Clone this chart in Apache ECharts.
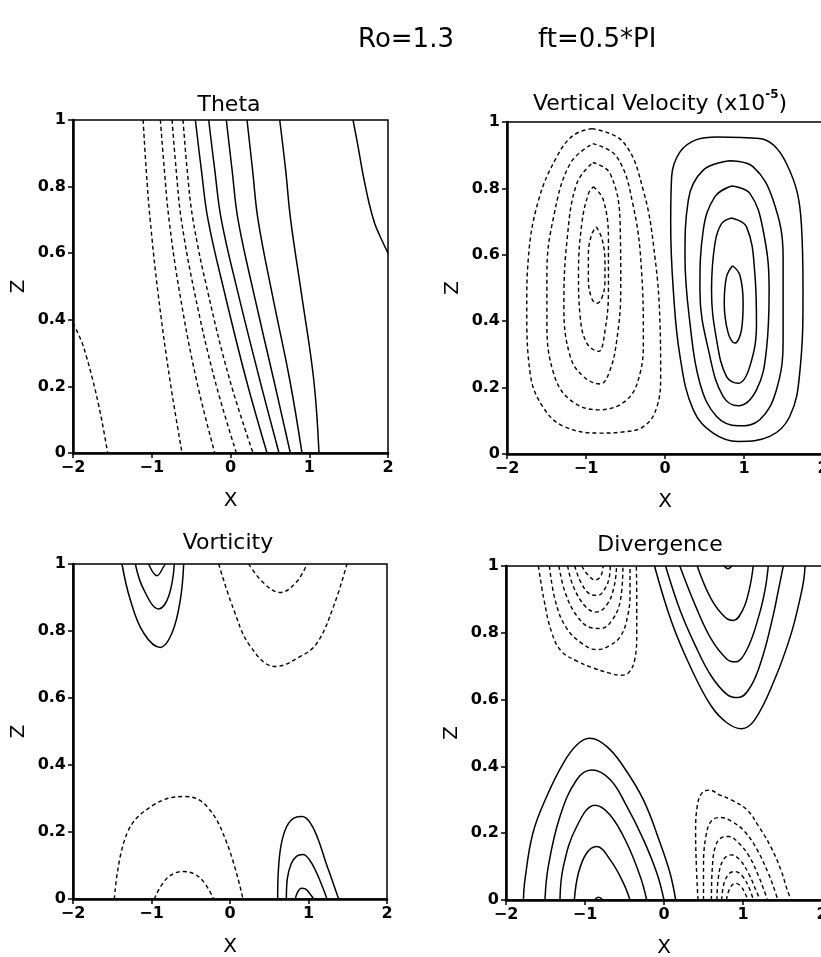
<!DOCTYPE html>
<html>
<head>
<meta charset="utf-8">
<script src="https://cdn.jsdelivr.net/npm/echarts@6/dist/echarts.min.js"></script>
<style>
html,body{margin:0;padding:0;background:#fff;}
#c{width:821px;height:957px;}
</style>
</head>
<body>
<div id="c"></div>
<script>
// ---------- tick labels ----------
const xTicks = [-2, -1, 0, 1, 2];
const zTicks = [0, 0.2, 0.4, 0.6, 0.8, 1];

// ---------- Theta contours (x, z) ----------
const thetaDashed = [
  [[-2,0.39],[-1.9,0.34],[-1.83,0.29],[-1.75,0.22],[-1.68,0.15],[-1.62,0.08],[-1.56,0]],
  [[-1.11,1],[-1.07,0.85],[-1.02,0.7],[-0.92,0.48],[-0.77,0.22],[-0.615,0]],
  [[-0.89,1],[-0.84,0.85],[-0.78,0.7],[-0.645,0.48],[-0.433,0.22],[-0.2,0]],
  [[-0.742,1],[-0.69,0.85],[-0.624,0.7],[-0.455,0.48],[-0.2,0.22],[0.075,0]],
  [[-0.603,1],[-0.55,0.85],[-0.476,0.7],[-0.285,0.48],[-0.01,0.22],[0.286,0]]
];
const thetaSolid = [
  [[-0.446,1],[-0.37,0.85],[-0.285,0.7],[-0.074,0.48],[0.2,0.22],[0.464,0]],
  [[-0.277,1],[-0.2,0.85],[-0.116,0.7],[0.096,0.48],[0.371,0.22],[0.616,0]],
  [[-0.053,1],[0.02,0.85],[0.096,0.7],[0.295,0.48],[0.549,0.22],[0.76,0]],
  [[0.21,1],[0.28,0.85],[0.35,0.7],[0.527,0.48],[0.752,0.22],[0.908,0]],
  [[0.625,1],[0.7,0.85],[0.764,0.7],[0.9,0.48],[1.057,0.22],[1.124,0]],
  [[1.556,1],[1.62,0.92],[1.68,0.84],[1.76,0.75],[1.83,0.69],[1.9,0.65],[1.94,0.63],[2.0,0.6]]
];

// ---------- Vertical velocity contours ----------
const vvDashed = [
  [[-0.926,0.98],[-0.53,0.94],[-0.27,0.79],[-0.126,0.59],[-0.063,0.39],[-0.055,0.24],[-0.105,0.14],[-0.27,0.083],[-0.55,0.066],[-0.82,0.063],[-1.28,0.083],[-1.54,0.14],[-1.705,0.24],[-1.75,0.44],[-1.73,0.59],[-1.6,0.765],[-1.37,0.895],[-1.16,0.96],[-0.926,0.98]],
  [[-0.914,0.935],[-0.61,0.895],[-0.4,0.745],[-0.295,0.544],[-0.274,0.344],[-0.316,0.243],[-0.484,0.163],[-0.842,0.133],[-1.2,0.163],[-1.41,0.243],[-1.495,0.394],[-1.495,0.544],[-1.41,0.714],[-1.2,0.875],[-0.914,0.935]],
  [[-0.914,0.878],[-0.695,0.845],[-0.568,0.694],[-0.56,0.494],[-0.61,0.344],[-0.7,0.25],[-0.82,0.211],[-1.03,0.233],[-1.2,0.294],[-1.28,0.444],[-1.24,0.644],[-1.116,0.815],[-0.914,0.878]],
  [[-0.905,0.805],[-0.78,0.765],[-0.716,0.644],[-0.716,0.494],[-0.758,0.374],[-0.842,0.309],[-0.99,0.334],[-1.074,0.414],[-1.095,0.544],[-1.053,0.694],[-0.968,0.785],[-0.905,0.805]],
  [[-0.87,0.684],[-0.8,0.65],[-0.76,0.58],[-0.76,0.52],[-0.8,0.47],[-0.86,0.454],[-0.93,0.47],[-0.97,0.53],[-0.97,0.6],[-0.93,0.66],[-0.87,0.684]]
];
const vvSolid = [
  [[0.653,0.955],[1.2,0.95],[1.537,0.875],[1.726,0.694],[1.747,0.494],[1.705,0.243],[1.579,0.113],[1.326,0.053],[0.926,0.038],[0.61,0.063],[0.358,0.133],[0.19,0.294],[0.105,0.494],[0.072,0.694],[0.084,0.835],[0.19,0.91],[0.4,0.947],[0.653,0.955]],
  [[0.82,0.883],[1.116,0.865],[1.368,0.765],[1.495,0.594],[1.495,0.344],[1.41,0.193],[1.2,0.103],[0.926,0.085],[0.653,0.113],[0.442,0.213],[0.316,0.394],[0.253,0.594],[0.295,0.765],[0.484,0.855],[0.82,0.883]],
  [[0.842,0.807],[1.074,0.785],[1.242,0.674],[1.318,0.494],[1.284,0.314],[1.158,0.193],[0.926,0.145],[0.737,0.173],[0.568,0.294],[0.442,0.494],[0.484,0.674],[0.632,0.775],[0.842,0.807]],
  [[0.842,0.711],[1.032,0.684],[1.137,0.544],[1.158,0.394],[1.074,0.264],[0.926,0.213],[0.779,0.233],[0.653,0.344],[0.589,0.494],[0.632,0.634],[0.716,0.694],[0.842,0.711]],
  [[0.855,0.567],[0.947,0.539],[0.989,0.454],[0.968,0.374],[0.884,0.334],[0.8,0.364],[0.75,0.454],[0.779,0.534],[0.855,0.567]]
];

// ---------- Vorticity contours ----------
const vortSolid = [
  [[-1.376,1],[-1.27,0.893],[-1.1,0.794],[-0.887,0.751],[-0.739,0.794],[-0.633,0.893],[-0.59,1]],
  [[-1.206,1],[-1.1,0.924],[-0.909,0.866],[-0.781,0.904],[-0.709,1]],
  [[-1.036,1],[-0.93,0.965],[-0.845,0.992],[-0.824,1]],
  [[0.607,0],[0.615,0.08],[0.65,0.16],[0.72,0.215],[0.82,0.242],[0.92,0.246],[1.02,0.228],[1.12,0.18],[1.22,0.11],[1.31,0.05],[1.384,0]],
  [[0.718,0],[0.73,0.06],[0.78,0.105],[0.85,0.128],[0.93,0.133],[1.01,0.118],[1.1,0.08],[1.18,0.035],[1.236,0]],
  [[0.832,0],[0.86,0.02],[0.91,0.032],[0.96,0.03],[1.02,0.015],[1.066,0]]
];
const vortDashed = [
  [[-0.144,1],[0.047,0.864],[0.26,0.754],[0.577,0.694],[0.896,0.724],[1.108,0.764],[1.32,0.874],[1.49,1]],
  [[0.238,1],[0.43,0.943],[0.641,0.915],[0.853,0.948],[0.98,1]],
  [[-1.473,0],[-1.312,0.196],[-0.972,0.281],[-0.569,0.306],[-0.293,0.276],[-0.038,0.166],[0.166,0]],
  [[-0.964,0],[-0.803,0.062],[-0.59,0.082],[-0.378,0.062],[-0.208,0]]
];

// ---------- Divergence contours ----------
const divSolid = [
  [[-1.78,0],[-1.76,0.06],[-1.66,0.2],[-1.485,0.31],[-1.274,0.41],[-1.105,0.464],[-0.945,0.484],[-0.723,0.459],[-0.512,0.399],[-0.259,0.299],[-0.048,0.17],[0.077,0.08],[0.148,0]],
  [[-1.507,0],[-1.465,0.1],[-1.317,0.25],[-1.105,0.36],[-0.916,0.389],[-0.68,0.36],[-0.47,0.28],[-0.259,0.18],[-0.09,0.08],[0,0]],
  [[-1.317,0],[-1.274,0.1],[-1.105,0.22],[-0.873,0.284],[-0.68,0.254],[-0.47,0.17],[-0.3,0.07],[-0.219,0]],
  [[-1.135,0],[-1.084,0.08],[-0.98,0.14],[-0.852,0.16],[-0.68,0.12],[-0.512,0.05],[-0.43,0]],
  [[-0.88,0],[-0.83,0.008],[-0.77,0]],
  [[-0.12,1],[0.1,0.83],[0.35,0.69],[0.6,0.58],[0.8,0.53],[0.98,0.513],[1.15,0.54],[1.4,0.66],[1.6,0.79],[1.72,0.9],[1.77,0.96],[1.785,1]],
  [[0.02,1],[0.2,0.87],[0.4,0.76],[0.6,0.67],[0.8,0.615],[0.94,0.606],[1.1,0.64],[1.25,0.73],[1.38,0.85],[1.45,0.93],[1.51,1]],
  [[0.2,1],[0.4,0.88],[0.6,0.78],[0.8,0.72],[0.9,0.713],[1.05,0.75],[1.2,0.85],[1.28,0.93],[1.32,1]],
  [[0.42,1],[0.6,0.9],[0.78,0.845],[0.88,0.837],[1.0,0.87],[1.08,0.93],[1.13,1]],
  [[0.76,1],[0.81,0.992],[0.86,1]]
];
const divDashed = [
  [[-1.59,1],[-1.52,0.9],[-1.42,0.8],[-1.3,0.745],[-1.1,0.715],[-0.9,0.695],[-0.7,0.68],[-0.55,0.673],[-0.45,0.68],[-0.37,0.72],[-0.345,0.8],[-0.345,0.9],[-0.35,1]],
  [[-1.45,1],[-1.38,0.9],[-1.25,0.82],[-1.05,0.77],[-0.85,0.75],[-0.7,0.76],[-0.55,0.79],[-0.46,0.85],[-0.43,0.92],[-0.43,1]],
  [[-1.33,1],[-1.25,0.92],[-1.1,0.85],[-0.92,0.815],[-0.8,0.813],[-0.65,0.84],[-0.55,0.9],[-0.52,1]],
  [[-1.22,1],[-1.15,0.94],[-1.0,0.88],[-0.86,0.862],[-0.72,0.885],[-0.63,0.94],[-0.6,1]],
  [[-1.13,1],[-1.05,0.95],[-0.93,0.915],[-0.84,0.912],[-0.74,0.935],[-0.69,0.97],[-0.68,1]],
  [[-1.04,1],[-0.97,0.975],[-0.87,0.958],[-0.8,0.97],[-0.77,1]],
  [[0.43,0],[0.41,0.1],[0.4,0.2],[0.42,0.28],[0.48,0.32],[0.58,0.329],[0.7,0.315],[0.85,0.3],[1.05,0.27],[1.2,0.22],[1.35,0.16],[1.48,0.09],[1.56,0.03],[1.61,0]],
  [[0.5,0],[0.5,0.1],[0.53,0.19],[0.6,0.237],[0.72,0.247],[0.86,0.235],[1.02,0.205],[1.18,0.15],[1.32,0.08],[1.4,0.03],[1.44,0]],
  [[0.6,0],[0.61,0.09],[0.65,0.16],[0.73,0.187],[0.82,0.19],[0.94,0.172],[1.08,0.13],[1.2,0.07],[1.28,0.02],[1.31,0]],
  [[0.67,0],[0.69,0.07],[0.75,0.12],[0.85,0.135],[0.96,0.12],[1.08,0.075],[1.18,0.02],[1.22,0]],
  [[0.73,0],[0.76,0.05],[0.83,0.08],[0.9,0.085],[0.99,0.072],[1.08,0.035],[1.13,0]],
  [[0.79,0],[0.83,0.033],[0.9,0.05],[0.97,0.042],[1.03,0.018],[1.06,0]]
];

// ---------- Titles ----------
const panelTitles = ['Theta', 'Vertical Velocity (x10', 'Vorticity', 'Divergence'];
const mainTitle = ['Ro=1.3', 'ft=0.5*PI'];

// ---------- layout ----------
const grids = [
  {left: 73, top: 120, width: 315, height: 333},
  {left: 507, top: 122, width: 316, height: 332},
  {left: 73, top: 564, width: 314, height: 335},
  {left: 506, top: 566, width: 316, height: 334}
];

const FONT = '"DejaVu Sans", sans-serif';

const chart = echarts.init(document.getElementById('c'), null, {renderer: 'canvas'});

const xAxes = grids.map((g, i) => ({
  gridIndex: i, type: 'value', min: -2, max: 2, interval: 1,
  axisLine: {onZero: false, lineStyle: {color: '#000', width: 2.5}},
  axisTick: {show: true, length: 5, lineStyle: {color: '#000', width: 1.5}},
  axisLabel: {color: '#000', fontFamily: FONT, fontWeight: 'bold', fontSize: 16, margin: 7,
    formatter: v => String(v).replace('-', '\u2212')},
  splitLine: {show: false},
  name: 'X', nameLocation: 'middle', nameGap: 38,
  nameTextStyle: {color: '#000', fontFamily: FONT, fontSize: 20}
}));
const yAxes = grids.map((g, i) => ({
  gridIndex: i, type: 'value', min: 0, max: 1, interval: 0.2,
  axisLine: {onZero: false, lineStyle: {color: '#000', width: 2.5}},
  axisTick: {show: true, length: 5, lineStyle: {color: '#000', width: 1.5}},
  axisLabel: {color: '#000', fontFamily: FONT, fontWeight: 'bold', fontSize: 16, margin: 7},
  splitLine: {show: false},
  name: 'Z', nameLocation: 'middle', nameGap: 44,
  nameTextStyle: {color: '#000', fontFamily: FONT, fontSize: 20}
}));

const series = [];
function addSet(sets, idx, dashed) {
  sets.forEach(pts => {
    series.push({
      type: 'line', xAxisIndex: idx, yAxisIndex: idx,
      data: pts, showSymbol: false, symbol: 'none', smooth: 0.4,
      lineStyle: {color: '#000', width: dashed ? 1.4 : 1.5, type: dashed ? [4, 3] : 'solid'},
      emphasis: {disabled: true}, silent: true, animation: false, clip: true
    });
  });
}
addSet(thetaSolid, 0, false); addSet(thetaDashed, 0, true);
addSet(vvSolid, 1, false);    addSet(vvDashed, 1, true);
addSet(vortSolid, 2, false);  addSet(vortDashed, 2, true);
addSet(divSolid, 3, false);   addSet(divDashed, 3, true);

const titleFont = (size) => size + 'px ' + FONT;
const graphic = [
  {type: 'text', x: 358, y: 40, style: {text: mainTitle[0], font: titleFont(26), fill: '#000', verticalAlign: 'middle', align: 'left'}},
  {type: 'text', x: 538, y: 40, style: {text: mainTitle[1], font: titleFont(26), fill: '#000', verticalAlign: 'middle', align: 'left'}},
  {type: 'text', x: 229, y: 105, style: {text: panelTitles[0], font: titleFont(22), fill: '#000', verticalAlign: 'middle', align: 'center'}},
  {type: 'text', x: 660, y: 102, style: {
    text: '{a|' + panelTitles[1] + '}{s|-5}{a|)}', fill: '#000', verticalAlign: 'middle', align: 'center',
    rich: {a: {font: titleFont(22), fill: '#000', verticalAlign: 'bottom', lineHeight: 26},
           s: {font: 'bold 12px ' + FONT, fill: '#000', verticalAlign: 'top', lineHeight: 26}}
  }},
  {type: 'text', x: 228, y: 543, style: {text: panelTitles[2], font: titleFont(22), fill: '#000', verticalAlign: 'middle', align: 'center'}},
  {type: 'text', x: 660, y: 545, style: {text: panelTitles[3], font: titleFont(22), fill: '#000', verticalAlign: 'middle', align: 'center'}}
];

chart.setOption({
  backgroundColor: '#fff',
  animation: false,
  grid: grids.map(g => Object.assign({show: true, borderColor: '#000', borderWidth: 1.5, backgroundColor: 'transparent', outerBoundsMode: 'none', containLabel: false}, g)),
  xAxis: xAxes,
  yAxis: yAxes,
  series: series,
  graphic: graphic
});
</script>
</body>
</html>
